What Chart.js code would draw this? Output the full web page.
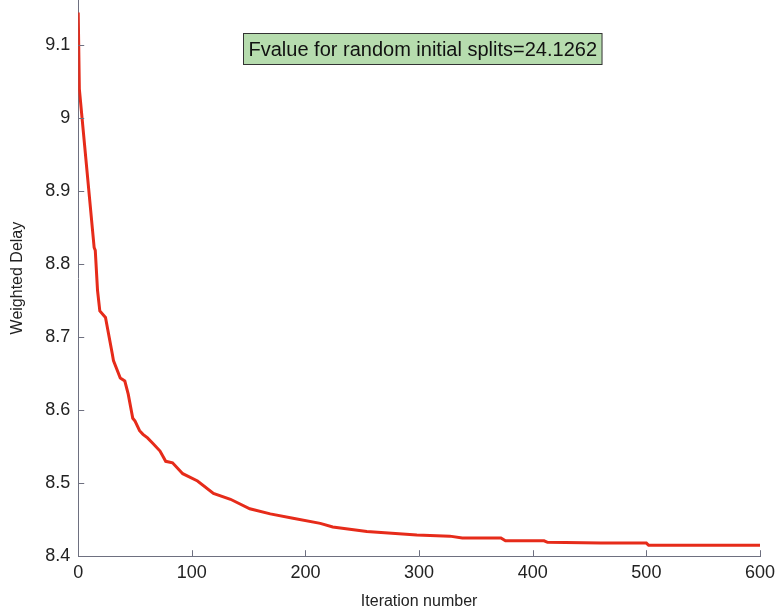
<!DOCTYPE html>
<html>
<head>
<meta charset="utf-8">
<script src="https://cdn.jsdelivr.net/npm/chart.js@4"></script>
<style>
  html, body { margin: 0; padding: 0; background: #fff; }
  #wrap { width: 778px; height: 608px; }
</style>
</head>
<body>
<div id="wrap"><canvas id="chart" width="778" height="608"></canvas></div>
<script>
// --- data ---
const iterations = [0, 1, 14, 15, 17, 19, 24, 30, 31, 37, 41, 44, 48, 50, 54, 57, 61, 66, 72, 77,
    83, 92, 105, 119, 134, 151, 169, 189, 213, 224, 254, 298, 327, 338, 372, 376, 410, 413, 460, 500, 502, 600];
const weightedDelay = [9.145, 9.04, 8.823, 8.819, 8.764, 8.736, 8.727, 8.677, 8.668, 8.644,
    8.640, 8.622, 8.589, 8.585, 8.572, 8.567, 8.562, 8.554, 8.544, 8.530,
    8.528, 8.513, 8.503, 8.486, 8.478, 8.465, 8.458, 8.452, 8.445, 8.440,
    8.434, 8.429, 8.4275, 8.425, 8.425, 8.421, 8.421, 8.419, 8.418, 8.418, 8.415, 8.415];
const xTicks = [0, 100, 200, 300, 400, 500, 600];
const yTicks = [8.4, 8.5, 8.6, 8.7, 8.8, 8.9, 9.0, 9.1];
const annotationText = 'Fvalue for random initial splits=24.1262';

const FONT = "'Liberation Sans', Arial, Helvetica, sans-serif";
const AXIS_COLOR = '#6e7080';

// small inward tick marks like the original plot
const inwardTicks = {
    id: 'inwardTicks',
    afterDraw(chart) {
        const { ctx, chartArea, scales } = chart;
        ctx.save();
        ctx.strokeStyle = AXIS_COLOR;
        ctx.lineWidth = 1;
        ctx.beginPath();
        scales.x.ticks.forEach(t => {
            const px = Math.round(scales.x.getPixelForValue(t.value)) + 0.5;
            ctx.moveTo(px, chartArea.bottom);
            ctx.lineTo(px, chartArea.bottom - 6);
        });
        scales.y.ticks.forEach(t => {
            const py = Math.round(scales.y.getPixelForValue(t.value)) + 0.5;
            ctx.moveTo(chartArea.left, py);
            ctx.lineTo(chartArea.left + 6, py);
        });
        ctx.stroke();
        ctx.restore();
    }
};

// green text box at the top
const annotationBox = {
    id: 'annotationBox',
    afterDraw(chart) {
        const { ctx, chartArea } = chart;
        ctx.save();
        ctx.font = '20px ' + FONT;
        const w = ctx.measureText(annotationText).width + 10;
        const h = 31;
        const cx = (chartArea.left + chartArea.right) / 2 + 3.5;
        const x = Math.round(cx - w / 2) + 0.5;
        const y = 33.5;
        ctx.fillStyle = '#b6dcae';
        ctx.fillRect(x, y, w, h);
        ctx.strokeStyle = '#333';
        ctx.lineWidth = 1;
        ctx.strokeRect(x, y, w, h);
        ctx.fillStyle = '#111';
        ctx.textBaseline = 'middle';
        ctx.textAlign = 'center';
        ctx.fillText(annotationText, x + w / 2, y + h / 2 + 1);
        ctx.restore();
    }
};

const ctx = document.getElementById('chart');
new Chart(ctx, {
    type: 'line',
    data: {
        datasets: [{
            data: iterations.map((it, i) => ({ x: it, y: weightedDelay[i] })),
            borderColor: '#e62b1a',
            borderWidth: 3,
            pointRadius: 0,
            tension: 0,
            fill: false
        }]
    },
    options: {
        responsive: false,
        animation: false,
        layout: { padding: { left: 8, right: 18, top: 0, bottom: -3 } },
        plugins: { legend: { display: false }, tooltip: { enabled: false } },
        scales: {
            x: {
                type: 'linear',
                min: 0,
                max: 600,
                afterBuildTicks: axis => { axis.ticks = xTicks.map(v => ({ value: v })); },
                afterFit: axis => { axis.paddingRight = 0; },
                grid: { display: false, drawTicks: false },
                border: { display: true, color: AXIS_COLOR, width: 1 },
                ticks: { font: { family: FONT, size: 18 }, color: '#222', padding: 6, maxRotation: 0 },
                title: {
                    display: true,
                    text: 'Iteration number',
                    font: { family: FONT, size: 16 },
                    color: '#222',
                    padding: { top: 2, bottom: 0 }
                }
            },
            y: {
                type: 'linear',
                min: 8.4,
                max: 9.162,
                afterBuildTicks: axis => { axis.ticks = yTicks.map(v => ({ value: v })); },
                afterFit: axis => { axis.paddingTop = 0; },
                grid: { display: false, drawTicks: false },
                border: { display: true, color: AXIS_COLOR, width: 1 },
                ticks: {
                    font: { family: FONT, size: 18 },
                    color: '#222',
                    padding: 8,
                    callback: v => String(Number(v.toFixed(1)))
                },
                title: {
                    display: true,
                    text: 'Weighted Delay',
                    font: { family: FONT, size: 16 },
                    color: '#222',
                    padding: { top: 0, bottom: 10 }
                }
            }
        }
    },
    plugins: [inwardTicks, annotationBox]
});
</script>
</body>
</html>
